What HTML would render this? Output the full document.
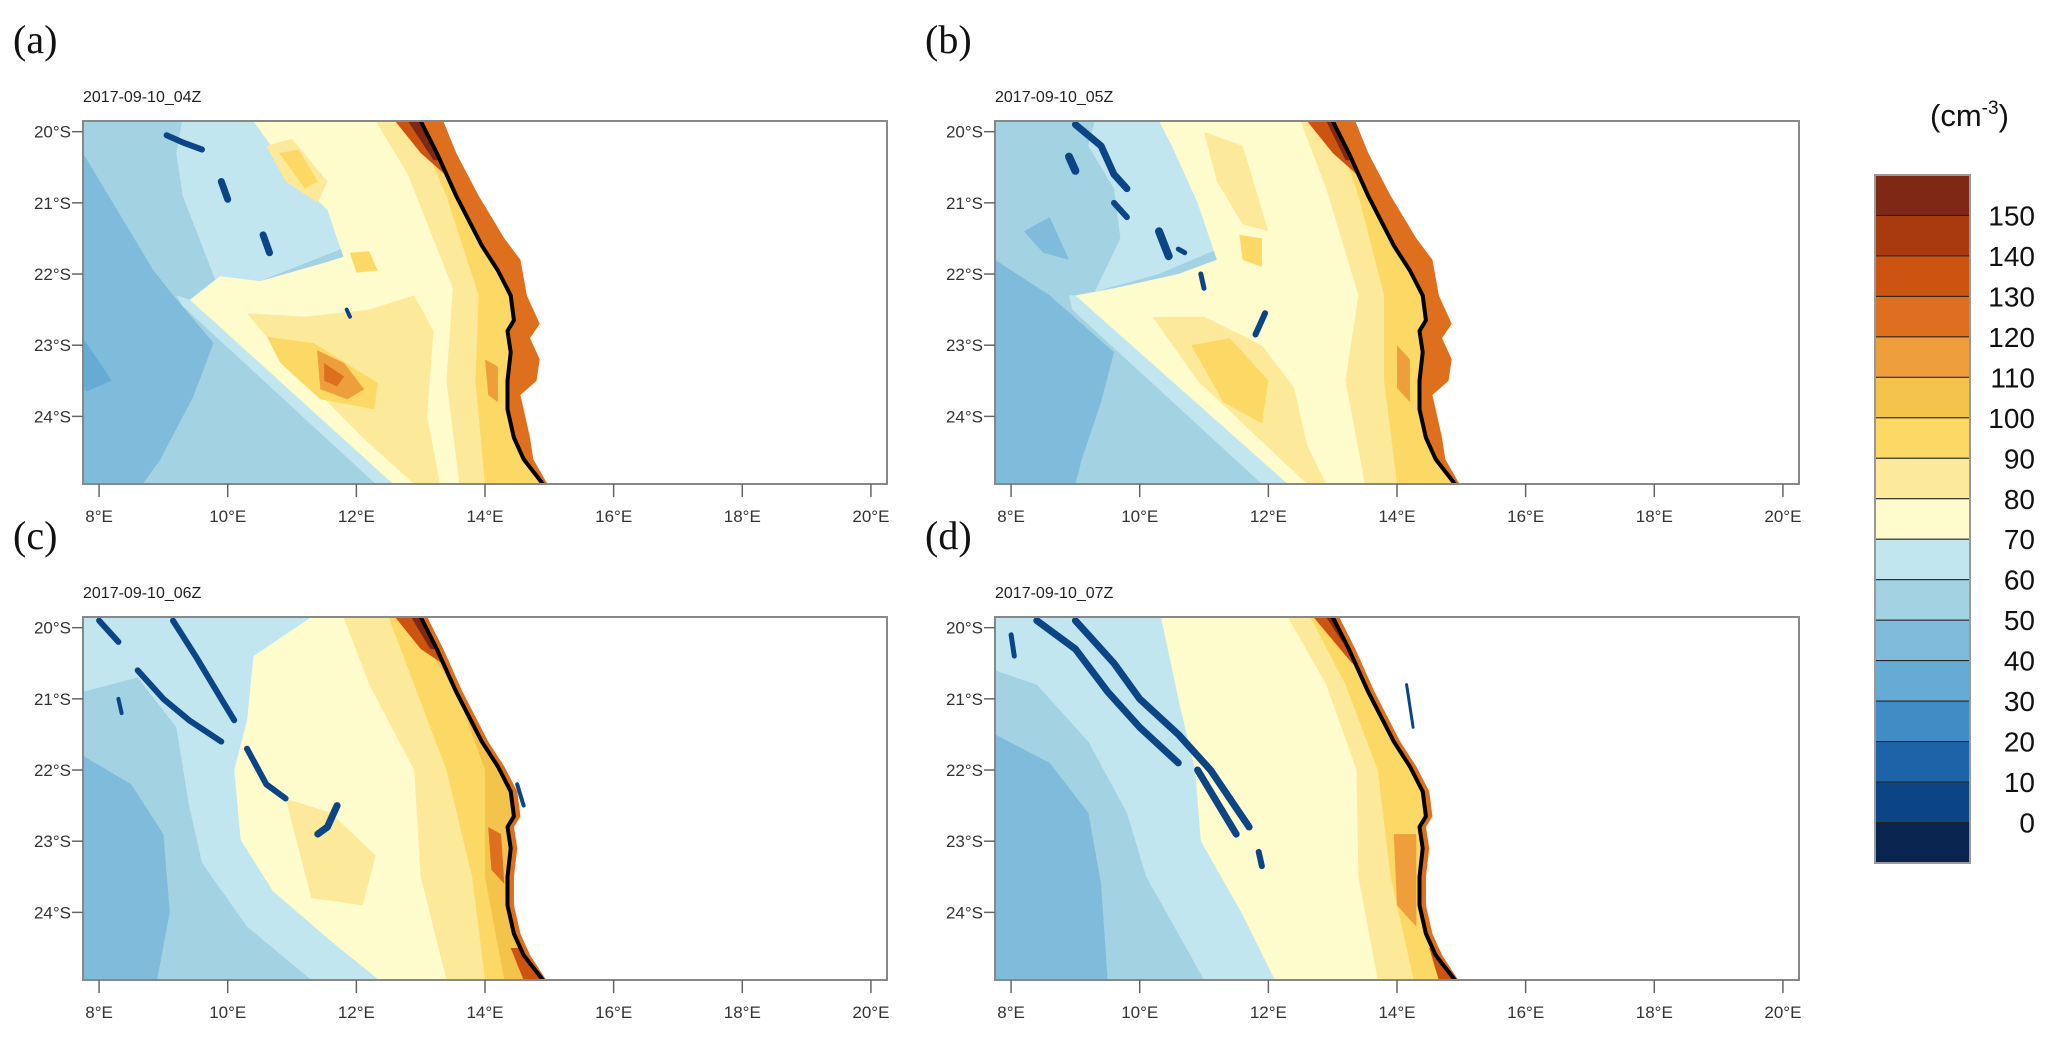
<!DOCTYPE html>
<html><head><meta charset="utf-8">
<style>
body{margin:0;background:#fff;}
svg text{font-family:"Liberation Sans",sans-serif;}
</style></head>
<body>
<svg id="fig" width="2067" height="1043" viewBox="0 0 2067 1043" xmlns="http://www.w3.org/2000/svg">
<rect width="2067" height="1043" fill="#fff"/>
</svg>
<script>
const NS="http://www.w3.org/2000/svg";
const svg=document.getElementById('fig');
const levelColors=["#7f2816","#a83a0e","#cc5410","#dd6f1f","#ee9e3a","#f4c34c","#fcd964","#fde99a","#fefccc","#c2e6ef","#a3d2e3","#7fbcdb","#66abd4","#3f8dc4","#1d63a7","#0b4586","#08244f"];
const levelLabels=["150","140","130","120","110","100","90","80","70","60","50","40","30","20","10","0"];
const lonTicks=[8,10,12,14,16,18,20];
const latTicks=[20,21,22,23,24];
const panelLetters=["(a)","(b)","(c)","(d)"];
const panelTitles=["2017-09-10_04Z","2017-09-10_05Z","2017-09-10_06Z","2017-09-10_07Z"];
const coast=[[13.0,19.85],[13.25,20.3],[13.55,20.9],[13.95,21.6],[14.2,21.95],[14.4,22.3],[14.45,22.65],[14.35,22.8],[14.4,23.1],[14.35,23.5],[14.35,23.9],[14.45,24.3],[14.6,24.6],[14.9,24.95]];
const landStripAB=[[13.35,19.85],[13.55,20.3],[13.9,20.9],[14.3,21.5],[14.55,21.8],[14.65,22.3],[14.85,22.7],[14.7,22.9],[14.85,23.2],[14.8,23.5],[14.55,23.7],[14.7,24.3],[14.75,24.6],[14.97,24.95]];
const landStripCD=[[13.1,19.85],[13.35,20.3],[13.65,20.9],[14.05,21.6],[14.3,21.95],[14.5,22.3],[14.55,22.65],[14.45,22.8],[14.5,23.1],[14.45,23.5],[14.45,23.9],[14.55,24.3],[14.7,24.6],[14.95,24.95]];
const fieldA=[
 [40,[[7.75,20.3],[8.84,21.94],[9.1,22.24],[9.78,22.97],[9.46,23.73],[8.95,24.61],[8.68,24.95],[7.75,24.95]]],
 [30,[[7.75,22.9],[8.2,23.5],[7.8,23.65],[7.75,23.6]]],
 [60,[[9.29,19.85],[10.4,19.85],[11.6,20.5],[11.9,21.6],[10.5,22.1],[9.9,22.3],[9.6,21.6],[9.3,20.9],[9.2,20.3]]],
 [60,[[9.2,22.3],[9.41,22.36],[12.57,24.95],[12.3,24.95],[9.3,22.45]]],
 [70,[[10.4,19.85],[15.5,19.85],[15.5,24.95],[12.57,24.95],[9.41,22.36],[9.88,22.03],[10.5,22.1],[11.43,21.86],[11.8,21.76],[11.55,21.1],[11.03,20.64],[10.5,19.98]]],
 [80,[[10.3,22.55],[11.2,22.6],[12.2,22.5],[12.9,22.3],[13.2,22.8],[13.1,24.0],[13.3,24.95],[12.9,24.95],[12.1,24.3],[10.8,23.1]]],
 [80,[[10.6,20.2],[11.0,20.1],[11.55,20.7],[11.4,21.0],[10.9,20.7]]],
 [80,[[12.3,19.85],[15.5,19.85],[15.5,24.95],[13.6,24.95],[13.4,23.5],[13.5,22.2],[12.8,20.6]]],
 [90,[[10.61,22.88],[11.34,22.97],[12.33,23.53],[12.28,23.9],[11.44,23.76],[10.82,23.25]]],
 [90,[[11.9,21.7],[12.2,21.68],[12.33,21.95],[12.0,21.98]]],
 [90,[[10.8,20.3],[11.1,20.25],[11.4,20.7],[11.2,20.8]]],
 [90,[[12.9,19.85],[15.5,19.85],[15.5,24.95],[14.0,24.95],[13.85,23.5],[13.9,22.3],[13.4,20.9]]],
 [110,[[11.39,23.07],[11.81,23.25],[12.12,23.62],[11.86,23.76],[11.44,23.62]]],
 [120,[[11.5,23.25],[11.81,23.44],[11.7,23.58],[11.5,23.5]]],
 [110,[[14.0,23.2],[14.2,23.3],[14.2,23.8],[14.05,23.7]]],
 [110,[[13.0,19.85],[15.5,19.85],[15.5,21.5],[13.8,21.2],[13.3,20.5]]],
 [130,[[12.6,19.85],[15.5,19.85],[15.5,20.9],[13.5,20.7],[13.0,20.3]]],
 [150,[[12.8,19.85],[15.5,19.85],[15.5,20.5],[13.2,20.4]]]
];
const fieldB=[
 [40,[[7.75,21.8],[8.6,22.3],[9.6,23.1],[9.4,23.8],[9.1,24.6],[9.0,24.95],[7.75,24.95]]],
 [40,[[8.2,21.4],[8.6,21.2],[8.9,21.8],[8.5,21.7]]],
 [60,[[9.3,19.85],[10.4,19.85],[11.4,20.8],[11.6,21.5],[10.3,22.0],[9.3,22.25],[9.7,21.5],[9.6,20.8],[9.2,20.2]]],
 [60,[[8.9,22.3],[9.1,22.3],[12.3,24.95],[11.9,24.95],[8.95,22.5]]],
 [70,[[10.3,19.85],[15.5,19.85],[15.5,24.95],[12.3,24.95],[9.0,22.3],[9.6,22.2],[10.6,22.0],[11.2,21.8],[10.9,21.0],[10.5,20.2]]],
 [80,[[11.0,20.0],[11.6,20.2],[12.0,21.4],[11.6,21.3],[11.2,20.7]]],
 [80,[[10.2,22.6],[11.0,22.6],[11.9,23.0],[12.4,23.6],[12.6,24.4],[12.9,24.95],[12.6,24.95],[10.9,23.5]]],
 [80,[[12.5,19.85],[15.5,19.85],[15.5,24.95],[13.5,24.95],[13.2,23.5],[13.4,22.3],[12.9,20.8]]],
 [90,[[10.8,23.0],[11.4,22.9],[12.0,23.5],[11.9,24.1],[11.3,23.8]]],
 [90,[[11.55,21.45],[11.9,21.5],[11.9,21.9],[11.6,21.8]]],
 [90,[[13.0,19.85],[15.5,19.85],[15.5,24.95],[14.0,24.95],[13.8,23.5],[13.8,22.3],[13.4,20.9]]],
 [110,[[14.0,23.0],[14.2,23.2],[14.2,23.8],[14.0,23.6]]],
 [110,[[13.1,19.85],[15.5,19.85],[15.5,21.5],[13.8,21.3],[13.4,20.5]]],
 [130,[[12.6,19.85],[15.5,19.85],[15.5,20.9],[13.5,20.7],[13.0,20.3]]],
 [150,[[12.9,19.85],[15.5,19.85],[15.5,20.5],[13.2,20.4]]]
];
const fieldC=[
 [60,[[7.75,19.85],[11.3,19.85],[10.4,20.4],[10.3,21.3],[10.1,22.0],[10.2,22.98],[10.7,23.7],[11.6,24.4],[12.35,24.95],[7.75,24.95]]],
 [50,[[7.75,20.9],[8.6,20.7],[9.2,21.4],[9.4,22.5],[9.6,23.3],[10.3,24.2],[11.3,24.95],[7.75,24.95]]],
 [40,[[7.75,21.8],[8.5,22.2],[9.0,22.9],[9.1,24.0],[8.9,24.95],[7.75,24.95]]],
 [70,[[11.3,19.85],[15.5,19.85],[15.5,24.95],[12.35,24.95],[11.6,24.4],[10.7,23.7],[10.2,22.98],[10.1,22.0],[10.3,21.3],[10.4,20.4]]],
 [80,[[10.9,22.4],[11.6,22.6],[12.3,23.2],[12.1,23.9],[11.3,23.8]]],
 [80,[[11.8,19.85],[15.5,19.85],[15.5,24.95],[13.4,24.95],[13.0,23.5],[12.9,22.0],[12.2,20.8]]],
 [90,[[12.5,19.85],[15.5,19.85],[15.5,24.95],[14.0,24.95],[13.8,23.5],[13.4,22.0],[12.9,20.8]]],
 [100,[[13.2,20.4],[15.5,20.4],[15.5,24.95],[14.3,24.95],[14.0,23.5],[14.0,22.0],[13.6,21.0]]],
 [120,[[14.05,22.8],[14.25,22.9],[14.3,23.6],[14.1,23.4]]],
 [130,[[12.6,19.85],[15.5,19.85],[15.5,20.8],[13.5,20.6],[13.0,20.3]]],
 [150,[[12.85,19.85],[15.5,19.85],[15.5,20.4],[13.15,20.3]]],
 [130,[[14.4,24.5],[15.5,24.5],[15.5,24.95],[14.6,24.95]]]
];
const fieldD=[
 [60,[[7.75,19.85],[10.33,19.85],[10.6,21.0],[10.86,22.0],[10.95,23.0],[11.58,24.0],[12.1,24.95],[7.75,24.95]]],
 [50,[[7.75,20.6],[8.4,20.8],[9.2,21.6],[9.8,22.6],[10.1,23.5],[10.6,24.3],[11.0,24.95],[7.75,24.95]]],
 [40,[[7.75,21.5],[8.6,21.9],[9.2,22.6],[9.4,23.6],[9.5,24.95],[7.75,24.95]]],
 [70,[[10.33,19.85],[15.5,19.85],[15.5,24.95],[12.1,24.95],[11.58,24.0],[10.95,23.0],[10.86,22.0],[10.6,21.0]]],
 [80,[[12.3,19.85],[15.5,19.85],[15.5,24.95],[13.7,24.95],[13.4,23.5],[13.37,22.0],[12.9,20.8]]],
 [90,[[12.65,19.85],[15.5,19.85],[15.5,24.95],[14.26,24.95],[13.9,23.5],[13.7,22.0],[13.2,20.8]]],
 [110,[[13.95,22.9],[14.3,22.9],[14.3,24.2],[14.0,23.9]]],
 [130,[[12.7,19.85],[15.5,19.85],[15.5,20.6],[13.3,20.5]]],
 [150,[[12.9,19.85],[15.5,19.85],[15.5,20.25],[13.15,20.2]]],
 [130,[[14.5,24.5],[15.5,24.5],[15.5,24.95],[14.65,24.95]]]
];
const streaksA=[[6,[[9.05,20.05],[9.3,20.15],[9.6,20.25]]],[7,[[9.9,20.7],[10.0,20.95]]],[7,[[10.55,21.45],[10.65,21.7]]],[4,[[11.85,22.5],[11.9,22.6]]]];
const streaksB=[[7,[[9.0,19.9],[9.4,20.2],[9.6,20.6],[9.8,20.8]]],[8,[[8.9,20.35],[9.0,20.55]]],[6,[[9.6,21.0],[9.8,21.2]]],[8,[[10.3,21.4],[10.45,21.75]]],[5,[[10.6,21.65],[10.7,21.7]]],[5,[[10.95,22.0],[11.0,22.2]]],[6,[[11.95,22.55],[11.8,22.85]]]];
const streaksC=[[6,[[8.0,19.9],[8.3,20.2]]],[6,[[9.15,19.9],[9.5,20.4],[9.9,21.0],[10.1,21.3]]],[6,[[8.6,20.6],[9.0,21.0],[9.4,21.3],[9.9,21.6]]],[6,[[10.3,21.7],[10.6,22.2],[10.9,22.4]]],[7,[[11.7,22.5],[11.55,22.8],[11.4,22.9]]],[4,[[8.3,21.0],[8.35,21.2]]],[4,[[14.5,22.2],[14.6,22.5]]]];
const streaksD=[[7,[[8.4,19.9],[9.0,20.3],[9.5,20.9],[10.0,21.4],[10.6,21.9]]],[7,[[9.0,19.9],[9.6,20.5],[10.0,21.0],[10.6,21.5],[11.1,22.0],[11.4,22.4],[11.7,22.8]]],[7,[[10.9,22.0],[11.3,22.6],[11.5,22.9]]],[6,[[11.85,23.15],[11.9,23.35]]],[5,[[8.0,20.1],[8.05,20.4]]],[3,[[14.15,20.8],[14.25,21.4]]]];
const panels=[
 {x:83,y:121,field:fieldA,strip:landStripAB,streaks:streaksA},
 {x:995,y:121,field:fieldB,strip:landStripAB,streaks:streaksB},
 {x:83,y:617,field:fieldC,strip:landStripCD,streaks:streaksC},
 {x:995,y:617,field:fieldD,strip:landStripCD,streaks:streaksD}
];
const LON0=7.75,LON1=20.25,LAT0=19.85,LAT1=24.95,PW=804,PH=363;
function colorFor(v){return levelColors[15-Math.round(v/10)];}
function el(tag,attrs,parent){const e=document.createElementNS(NS,tag);for(const k in attrs)e.setAttribute(k,attrs[k]);(parent||svg).appendChild(e);return e;}
panels.forEach((p,i)=>{
  const sx=lon=>p.x+(lon-LON0)/(LON1-LON0)*PW;
  const sy=lat=>p.y+(lat-LAT0)/(LAT1-LAT0)*PH;
  const pts=arr=>arr.map(q=>sx(q[0]).toFixed(1)+","+sy(q[1]).toFixed(1)).join(" ");
  const g=el('g',{});
  
  
  const cp=el('clipPath',{id:'clip'+i},g);
  el('rect',{x:p.x,y:p.y,width:PW,height:PH},cp);
  const m=el('g',{'clip-path':'url(#clip'+i+')'},g);
  const base=el('rect',{x:p.x,y:p.y,width:PW,height:PH,fill:colorFor(50)},m);
  
  
  p.field.forEach(f=>{
    const pg=el('polygon',{points:pts(f[1]),fill:colorFor(f[0])},m);
    
    
  });
  const land=p.strip.concat([[21,24.95],[21,19.85]]);
  const lp=el('polygon',{points:pts(land),fill:'#fff'},m);
  
  
  const stripPoly=coast.concat(p.strip.slice().reverse());
  const sp=el('polygon',{points:pts(stripPoly),fill:colorFor(120)},m);
  
  
  p.streaks.forEach(s=>{
    const pl=el('polyline',{points:pts(s[1]),fill:'none',stroke:colorFor(0),'stroke-width':s[0],'stroke-linecap':'round','stroke-linejoin':'round'},m);
    
    
  });
  const cl=el('polyline',{points:pts(coast),fill:'none',stroke:'#000','stroke-width':4,'stroke-linejoin':'round'},m);
  
  
  const fr=el('rect',{x:p.x,y:p.y,width:PW,height:PH,fill:'none',stroke:'#888','stroke-width':2},g);
  
  
  latTicks.forEach(t=>{
    const y=sy(t);
    el('line',{x1:p.x-11,x2:p.x,y1:y,y2:y,stroke:'#666','stroke-width':1.5},g);
    const tx=el('text',{x:p.x-12,y:y+6,'text-anchor':'end','font-size':17,fill:'#333'},g);
    tx.textContent=t+"°S";
    
    
  });
  lonTicks.forEach(t=>{
    const x=sx(t);
    el('line',{x1:x,x2:x,y1:p.y+PH,y2:p.y+PH+13,stroke:'#666','stroke-width':1.5},g);
    const tx=el('text',{x:x,y:p.y+PH+38,'text-anchor':'middle','font-size':17,fill:'#333'},g);
    tx.textContent=t+"°E";
    
    
  });
  const tt=el('text',{x:p.x,y:p.y-19,'font-size':16,fill:'#222'},g);
  tt.textContent=panelTitles[i];
  
  
  const lt=el('text',{x:p.x-70,y:p.y-68,'font-size':40,fill:'#111'},g);
  lt.style.fontFamily='"Liberation Serif",serif';
  lt.textContent=panelLetters[i];
  
  
});
const CBX=1875,CBY=175,CBW=95,CBH=688;
const cb=el('g',{});


const bh=CBH/levelColors.length;
levelColors.forEach((c,i)=>{
  const r=el('rect',{x:CBX,y:CBY+i*bh,width:CBW,height:bh,fill:c,stroke:'#222','stroke-width':1},cb);
  
  
});
el('rect',{x:CBX,y:CBY,width:CBW,height:CBH,fill:'none',stroke:'#999','stroke-width':2},cb);
levelLabels.forEach((l,i)=>{
  const t=el('text',{x:2035,y:CBY+(i+1)*bh+10,'text-anchor':'end','font-size':28,fill:'#111'},cb);
  t.textContent=l;
  
  
});
const u=el('text',{x:1930,y:126,'font-size':31,fill:'#111'},cb);
u.innerHTML='(cm<tspan dy="-12" font-size="19">-3</tspan><tspan dy="12">)</tspan>';


</script>
</body></html>
